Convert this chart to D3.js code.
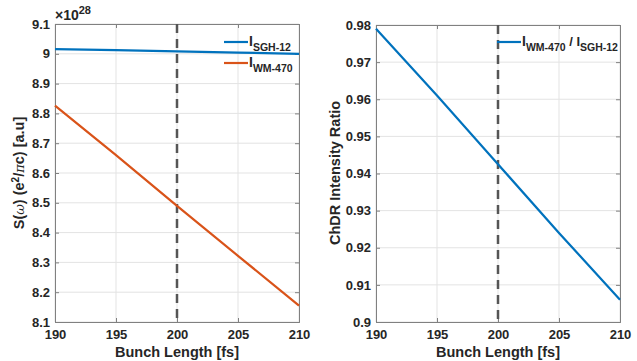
<!DOCTYPE html>
<html>
<head>
<meta charset="utf-8">
<script src="https://cdn.jsdelivr.net/npm/d3@7"></script>
<style>
  body { margin: 0; background: #fff; }
  svg text { font-family: "Liberation Sans", Arial, sans-serif; font-weight: bold; fill: #262626; }
</style>
</head>
<body>
<svg id="chart" width="637" height="361"></svg>
<script>
// bunch length samples [fs]
var bunchLength = [190, 195, 200, 205, 210];
// spectral intensity, in units of 1e28
var sgh12 = [9.016, 9.012, 9.008, 9.004, 9.000];
var wm470 = [8.826, 8.660, 8.490, 8.322, 8.155];
// ChDR intensity ratio WM-470 / SGH-12
var ratio = [0.979, 0.961, 0.9425, 0.924, 0.906];

var xTicks = [190, 195, 200, 205, 210];
var leftTicks = [8.1, 8.2, 8.3, 8.4, 8.5, 8.6, 8.7, 8.8, 8.9, 9, 9.1];
var rightTicks = [0.9, 0.91, 0.92, 0.93, 0.94, 0.95, 0.96, 0.97, 0.98];
var markerX = 200;

var svg = d3.select("#chart");
var blue = "#0072BD", orange = "#D95319";

function panel(x0, x1, y0, y1, yDomain, yTicks, fmt) {
  var x = d3.scaleLinear().domain([190, 210]).range([x0, x1]);
  var y = d3.scaleLinear().domain(yDomain).range([y1, y0]);
  var g = svg.append("g");

  // grid
  g.selectAll(".gx").data(xTicks).enter().append("line")
    .attr("x1", d => x(d)).attr("x2", d => x(d))
    .attr("y1", y0).attr("y2", y1)
    .attr("stroke", "#e3e3e3").attr("stroke-width", 1);
  g.selectAll(".gy").data(yTicks).enter().append("line")
    .attr("x1", x0).attr("x2", x1)
    .attr("y1", d => y(d)).attr("y2", d => y(d))
    .attr("stroke", "#e3e3e3").attr("stroke-width", 1);

  g.append("g").attr("transform", "translate(0," + y1 + ")")
    .call(d3.axisBottom(x).tickValues(xTicks).tickSize(-4).tickPadding(8).tickFormat(d3.format("d")));
  g.append("g").attr("transform", "translate(" + x0 + ",0)")
    .call(d3.axisLeft(y).tickValues(yTicks).tickSize(-4).tickPadding(5).tickFormat(fmt));
  g.append("g").attr("transform", "translate(0," + y0 + ")")
    .call(d3.axisTop(x).tickValues(xTicks).tickSize(-4).tickFormat(""));
  g.append("g").attr("transform", "translate(" + x1 + ",0)")
    .call(d3.axisRight(y).tickValues(yTicks).tickSize(-4).tickFormat(""));
  g.selectAll(".domain").attr("stroke", "#808080");
  g.selectAll(".tick line").attr("stroke", "#808080");
  g.selectAll(".tick text").attr("font-size", 13).attr("fill", "#262626")
    .attr("font-family", "Liberation Sans, Arial, sans-serif").attr("font-weight", "bold");

  // dashed marker
  g.append("line")
    .attr("x1", x(markerX)).attr("x2", x(markerX))
    .attr("y1", y0).attr("y2", y1)
    .attr("stroke", "#555").attr("stroke-width", 2.5)
    .attr("stroke-dasharray", "9,6");

  g.append("text").attr("x", (x0 + x1) / 2).attr("y", y1 + 35)
    .attr("text-anchor", "middle").attr("font-size", 14.5).text("Bunch Length [fs]");
  return { x: x, y: y, g: g };
}

// left panel
var L = panel(55, 299, 24, 322, [8.1, 9.1], leftTicks, d => d === 9 ? "9" : d3.format(".1f")(d));
var line = d3.line().x((d, i) => L.x(bunchLength[i])).y(d => L.y(d));
L.g.append("path").datum(sgh12).attr("d", line).attr("fill", "none").attr("stroke", blue).attr("stroke-width", 2.2);
L.g.append("path").datum(wm470).attr("d", line).attr("fill", "none").attr("stroke", orange).attr("stroke-width", 2.2);

var exp = svg.append("text").attr("x", 55).attr("y", 20).attr("font-size", 14);
exp.append("tspan").text("\u00d710");
exp.append("tspan").attr("dy", -6).attr("font-size", 11).text("28");

var ylab = svg.append("text").attr("transform", "translate(24,173) rotate(-90)")
  .attr("text-anchor", "middle").attr("font-size", 14.5);
ylab.append("tspan").text("S(");
ylab.append("tspan").attr("font-style", "italic").attr("font-weight", "normal").attr("font-family", "DejaVu Serif, serif").attr("font-size", 13).text("\u03c9");
ylab.append("tspan").text(") (e");
ylab.append("tspan").attr("dy", -5).attr("font-size", 10).text("2");
ylab.append("tspan").attr("dy", 5).text("/");
ylab.append("tspan").attr("font-weight", "normal").attr("font-family", "DejaVu Serif, serif").attr("font-style", "italic").attr("font-size", 13).text("\u03c0");
ylab.append("tspan").text("c) [a.u]");

function legendEntry(g, x, y, color, parts) {
  g.append("line").attr("x1", x).attr("x2", x + 24).attr("y1", y).attr("y2", y)
    .attr("stroke", color).attr("stroke-width", 2.2);
  var t = g.append("text").attr("x", x + 25).attr("y", y + 4).attr("font-size", 14);
  parts.forEach(function(p) {
    t.append("tspan").attr("dy", p.dy || 0).attr("font-size", p.size || 14).text(p.t);
  });
}
legendEntry(L.g, 224, 42, blue, [{ t: "I" }, { t: "SGH-12", dy: 5, size: 10.5 }]);
legendEntry(L.g, 224, 63, orange, [{ t: "I" }, { t: "WM-470", dy: 5, size: 10.5 }]);

// right panel
var R = panel(376, 620, 25, 322, [0.9, 0.98], rightTicks, d => d === 0.9 ? "0.9" : d3.format(".2f")(d));
var line2 = d3.line().x((d, i) => R.x(bunchLength[i])).y(d => R.y(d));
R.g.append("path").datum(ratio).attr("d", line2).attr("fill", "none").attr("stroke", blue).attr("stroke-width", 2.2);

legendEntry(R.g, 497, 42, blue, [{ t: "I" }, { t: "WM-470", dy: 5, size: 10.5 }, { t: " / I", dy: -5, size: 13 }, { t: "SGH-12", dy: 5, size: 10.5 }]);

svg.append("text").attr("transform", "translate(340,173) rotate(-90)")
  .attr("text-anchor", "middle").attr("font-size", 14.5).text("ChDR Intensity Ratio");
</script>
</body>
</html>
